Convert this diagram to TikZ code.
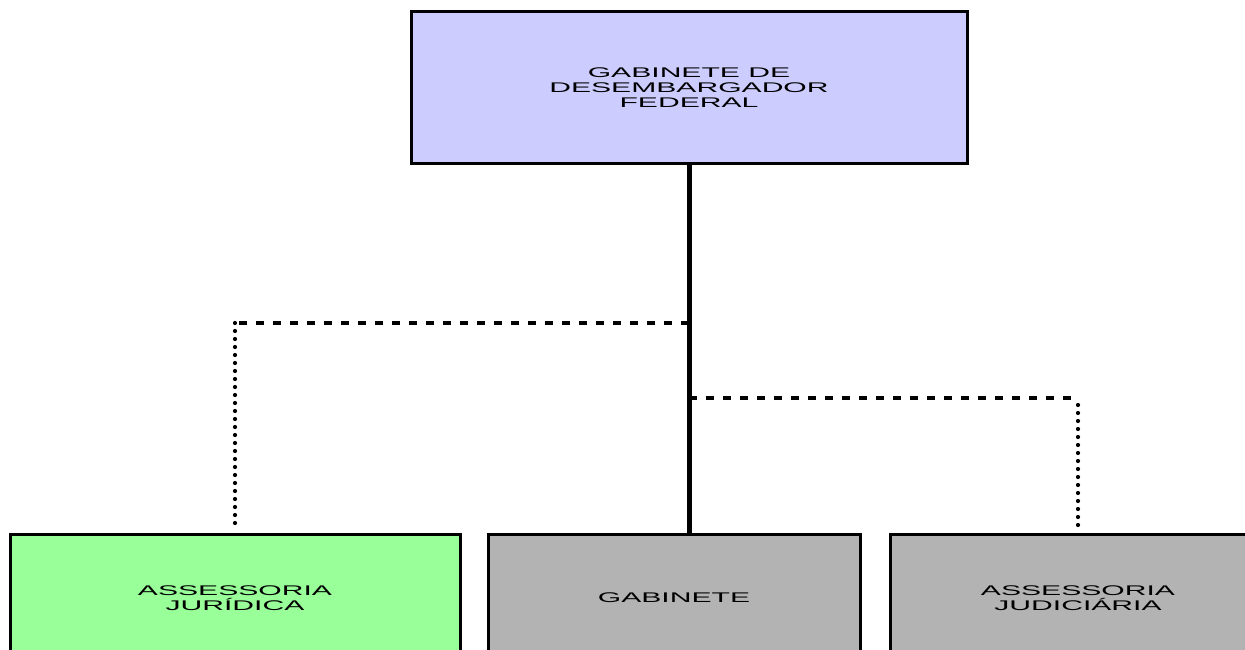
\documentclass[tikz,border=0pt]{standalone}
\usepackage{fontspec}
\setmainfont[FakeStretch=2.15]{Liberation Sans}
\begin{document}
\begin{tikzpicture}[x=1pt,y=-1pt,
  unitbox/.style={draw=black,line width=3pt,align=center,inner sep=0pt,
    font=\fontsize{14}{15}\selectfont},
  chain/.style={line width=5pt},
  dashlink/.style={line width=3.4pt,dash pattern=on 8pt off 9pt},
  dotlink/.style={line width=4.2pt,line cap=round,dash pattern=on 0pt off 8pt}]
\useasboundingbox (0,0) rectangle (1245,650);
\clip (0,0) rectangle (1245,650);
\definecolor{headfill}{HTML}{CCCCFF}
\definecolor{legalfill}{HTML}{99FF99}
\definecolor{unitfill}{HTML}{B3B3B3}
% top office
\node[unitbox,fill=headfill,minimum width=556pt,minimum height=152pt]
  (top) at (689,88) {GABINETE DE\\DESEMBARGADOR\\FEDERAL};
% subordinate units
\node[unitbox,fill=legalfill,minimum width=450pt,minimum height=128pt]
  (jur) at (235,598) {ASSESSORIA\\JURÍDICA};
\node[unitbox,fill=unitfill,minimum width=372pt,minimum height=128pt]
  (gab) at (674,598) {GABINETE};
\node[unitbox,fill=unitfill,minimum width=376pt,minimum height=128pt]
  (jud) at (1078,598) {ASSESSORIA\\JUDICIÁRIA};
% branch points on the main line
\coordinate (j1) at (689,323);
\coordinate (j2) at (689,398);
% main line
\draw[chain] (top.south) -- (top.south |- gab.north);
% advisory links
\draw[dashlink] (j1) -- (j1 -| jur.north);
\draw[dotlink] (j1 -| jur.north) -- ([yshift=5pt]jur.north);
\draw[dashlink] (j2) -- (j2 -| jud.north);
\draw[dotlink] ([yshift=-7pt]j2 -| jud.north) -- ([yshift=5pt]jud.north);
\end{tikzpicture}
\end{document}
